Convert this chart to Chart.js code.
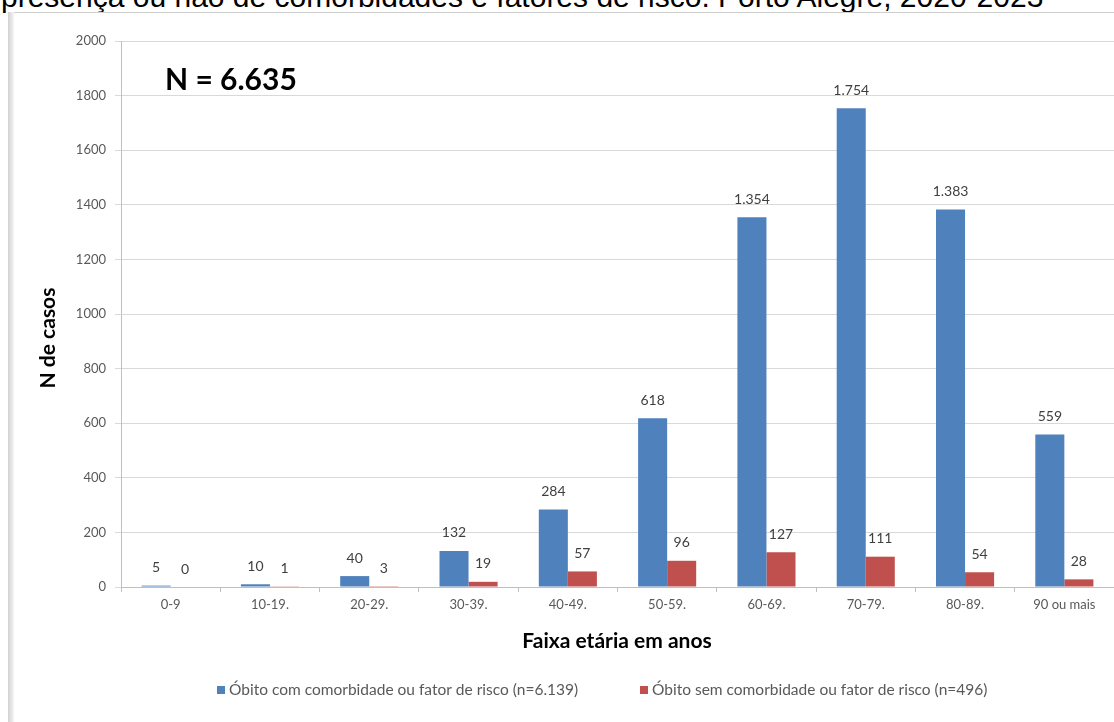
<!DOCTYPE html>
<html>
<head>
<meta charset="utf-8">
<script src="https://cdn.jsdelivr.net/npm/chart.js@4"></script>
<style>
  html, body { margin: 0; padding: 0; background: #fff; overflow: hidden; }
  #wrap { position: relative; width: 1114px; height: 722px; overflow: hidden; }
  #title { position: absolute; left: 1px; top: -18px; white-space: nowrap;
           font: 30px "Liberation Sans", Arial, sans-serif; line-height: 30px; color: #000; }
  #frame { position: absolute; left: 12px; top: 12px; width: 1200px; height: 800px;
           border-top: 1px solid #cfcfcf; }
  #band { position: absolute; left: 8px; top: 12px; width: 6px; height: 800px;
          background: linear-gradient(to right, #d2d2d2, #e6e6e6 60%, #f6f6f6); }
  #c { position: absolute; left: 0; top: 0; }
</style>
</head>
<body>
<div id="wrap">
  <div id="title">presença ou não de comorbidades e fatores de risco. Porto Alegre, 2020-2023</div>
  <div id="frame"></div>
  <div id="band"></div>
  <canvas id="c" width="1114" height="722"></canvas>
</div>
<script>
const faixas = ["0-9", "10-19.", "20-29.", "30-39.", "40-49.", "50-59.", "60-69.", "70-79.", "80-89.", "90 ou mais"];
const comComorb = [5, 10, 40, 132, 284, 618, 1354, 1754, 1383, 559];
const semComorb = [0, 1, 3, 19, 57, 96, 127, 111, 54, 28];
const yTicks = [0, 200, 400, 600, 800, 1000, 1200, 1400, 1600, 1800, 2000];

const blue = "#4F81BD";
const red = "#C0504D";
const tickColor = "#595959";
const font = "Lato, 'Open Sans', sans-serif";

function fmt(v) {
    return v.toLocaleString("pt-BR");
}

// labels above bars, N total, axis titles, legend
const extras = {
    id: "extras",
    afterDatasetsDraw(chart) {
        const ctx = chart.ctx;
        ctx.save();
        ctx.fillStyle = "#404040";
        ctx.font = "14px " + font;
        ctx.textAlign = "center";
        ctx.textBaseline = "middle";
        chart.data.datasets.forEach(function (ds, i) {
            chart.getDatasetMeta(i).data.forEach(function (bar, j) {
                ctx.fillText(fmt(ds.data[j]), bar.x, bar.y - 18);
            });
        });

        ctx.fillStyle = "#000";
        ctx.textAlign = "left";
        ctx.font = "bold 30px " + font;
        ctx.fillText("N = 6.635", 165, 80);

        ctx.font = "bold 21px " + font;
        ctx.textAlign = "center";
        ctx.fillText("Faixa etária em anos", 617, 641);

        ctx.save();
        ctx.translate(48, 338);
        ctx.rotate(-Math.PI / 2);
        ctx.fillText("N de casos", 0, 0);
        ctx.restore();

        // legend
        ctx.font = "15.5px " + font;
        ctx.textAlign = "left";
        const items = [
            { text: "Óbito com comorbidade ou fator de risco (n=6.139)", color: blue, x: 217 },
            { text: "Óbito sem comorbidade ou fator de risco (n=496)", color: red, x: 640 }
        ];
        items.forEach(function (it) {
            ctx.fillStyle = it.color;
            ctx.fillRect(it.x, 686, 8, 8);
            ctx.fillStyle = tickColor;
            ctx.fillText(it.text, it.x + 12, 690);
        });
        ctx.restore();
    }
};

new Chart(document.getElementById("c"), {
    type: "bar",
    data: {
        labels: faixas,
        datasets: [{
            label: "Óbito com comorbidade ou fator de risco (n=6.139)",
            data: comComorb,
            backgroundColor: blue,
            categoryPercentage: 0.585,
            barPercentage: 1.0
        }, {
            label: "Óbito sem comorbidade ou fator de risco (n=496)",
            data: semComorb,
            backgroundColor: red,
            categoryPercentage: 0.585,
            barPercentage: 1.0
        }]
    },
    options: {
        responsive: false,
        animation: false,
        layout: { padding: { top: 41, right: 0, bottom: 0, left: 0 } },
        plugins: {
            legend: { display: false },
            tooltip: { enabled: false }
        },
        scales: {
            x: {
                afterFit: function (s) { s.height = 135; },
                grid: { drawOnChartArea: false, drawTicks: true, tickLength: 5, color: "#bfbfbf", offset: true },
                border: { color: "#bfbfbf" },
                ticks: { color: tickColor, font: { family: font, size: 13 }, padding: 5, maxRotation: 0 }
            },
            y: {
                min: 0,
                max: 2000,
                afterFit: function (s) { s.width = 121; },
                afterBuildTicks: function (s) { s.ticks = yTicks.map(function (v) { return { value: v }; }); },
                grid: { color: "#d9d9d9", tickLength: 6 },
                border: { color: "#bfbfbf" },
                ticks: {
                    color: tickColor,
                    font: { family: font, size: 13 },
                    padding: 9,
                    callback: function (v) { return String(v); }
                }
            }
        }
    },
    plugins: [extras]
});
</script>
</body>
</html>
